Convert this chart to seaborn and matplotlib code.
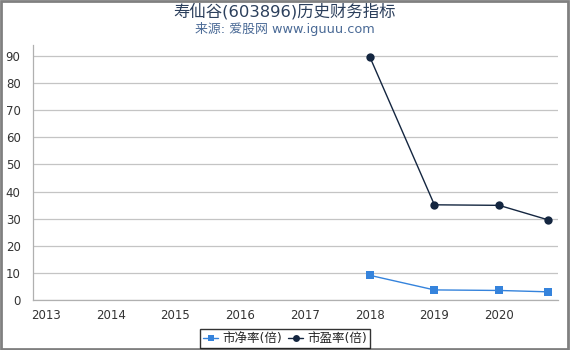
import matplotlib
matplotlib.use("Agg")
import matplotlib.pyplot as plt
import seaborn as sns
import pandas as pd
from matplotlib.patches import Rectangle

years = [2018, 2019, 2020, 2020.75]
pb = [9.1, 3.7, 3.5, 3.0]
pe = [89.8, 35.1, 34.9, 29.6]
xticks = [2013, 2014, 2015, 2016, 2017, 2018, 2019, 2020]
yticks = [0, 10, 20, 30, 40, 50, 60, 70, 80, 90]
title = "寿仙谷(603896)历史财务指标"
subtitle = "来源: 爱股网 www.iguuu.com"
labels = ["市净率(倍)", "市盈率(倍)"]

sns.set_theme(style="white")
plt.rcParams['font.family'] = ['DejaVu Sans', 'Noto Sans CJK SC']

df = pd.DataFrame({
    "year": years * 2,
    "value": pb + pe,
    "series": [labels[0]] * len(years) + [labels[1]] * len(years),
})

fig = plt.figure(figsize=(5.7, 3.5), dpi=100)
ax = fig.add_axes([0.058, 0.143, 0.921, 0.728])

palette = {labels[0]: "#3583dc", labels[1]: "#142640"}
sns.lineplot(data=df, x="year", y="value", hue="series", style="series",
             markers={labels[0]: "s", labels[1]: "o"}, dashes=False,
             palette=palette, linewidth=1, markersize=6, markeredgewidth=0,
             ax=ax)

ax.set_xlim(2012.8, 2020.91)
ax.set_ylim(0, 94)
ax.set_xticks(xticks)
ax.set_xticklabels([str(t) for t in xticks])
ax.set_yticks(yticks)
ax.grid(axis="y", color="#c4c4c4", linewidth=0.9)
ax.set_axisbelow(True)
ax.set_xlabel("")
ax.set_ylabel("")
for s in ["top", "right"]:
    ax.spines[s].set_visible(False)
for s in ["left", "bottom"]:
    ax.spines[s].set_color("#b0b0b0")
    ax.spines[s].set_linewidth(0.9)
ax.tick_params(axis="both", colors="#333333", labelsize=8.5, length=3, width=0.8)
ax.tick_params(axis="both", color="#b0b0b0")
ax.tick_params(axis="y", pad=6)

handles, hl = ax.get_legend_handles_labels()
ax.get_legend().remove()
leg = fig.legend(handles, hl, loc="lower center", bbox_to_anchor=(0.5, 0.005), ncol=2,
                 frameon=True, fancybox=False, fontsize=9, handlelength=1.2,
                 handletextpad=0.3, columnspacing=0.5, borderpad=0.25,
                 borderaxespad=0)
leg.get_frame().set_edgecolor("#000000")
leg.get_frame().set_linewidth(1)
for h in leg.legend_handles:
    h.set_markersize(5)

fig.text(0.5, 0.967, title, ha="center", va="center", fontsize=11.8, color="#2b3f5c")
fig.text(0.5, 0.918, subtitle, ha="center", va="center", fontsize=9.3, color="#4a6a96")

fig.patches.append(Rectangle((0.002, 0.003), 0.994, 0.994, transform=fig.transFigure,
                             fill=False, edgecolor="#808080", linewidth=2))

fig.savefig("out.png", dpi=100)
